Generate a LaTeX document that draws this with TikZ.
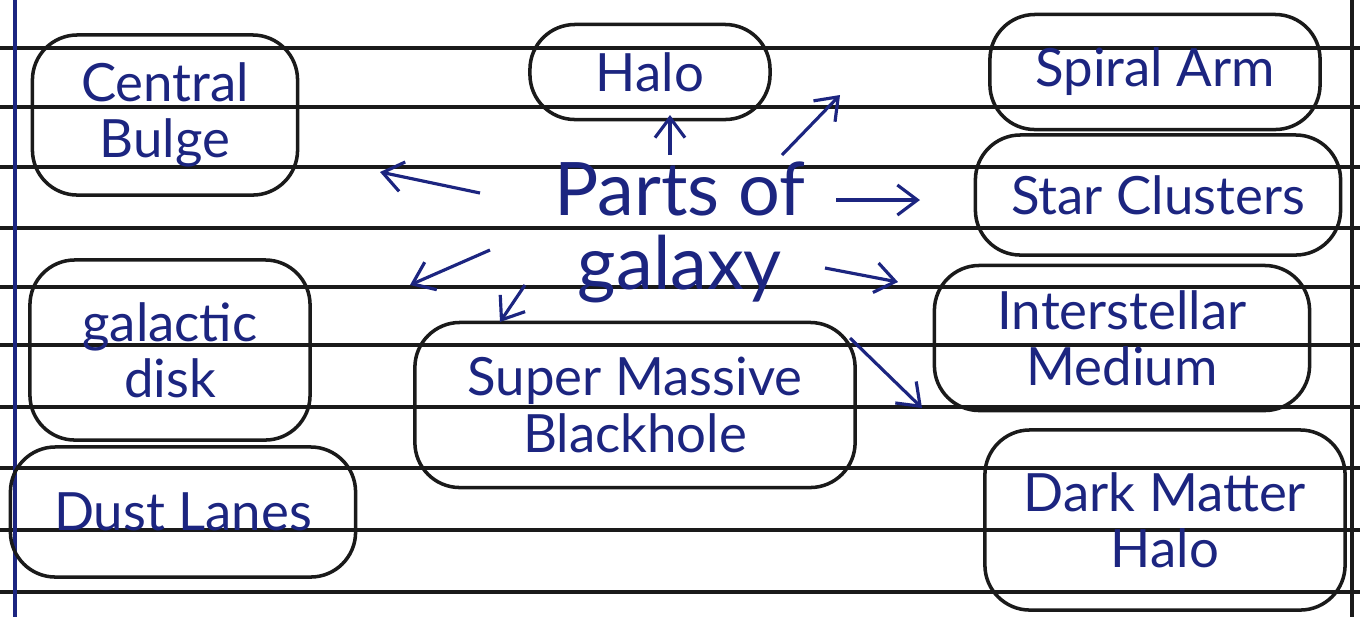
\documentclass[tikz,border=0pt]{standalone}
\usepackage{fontspec}
\setmainfont{Lato}
\usetikzlibrary{arrows.meta}

\definecolor{ink}{HTML}{1C2580}
\definecolor{pen}{HTML}{1A1A1A}

\begin{document}
\begin{tikzpicture}[
    x=0.01cm, y=-0.01cm,
    blob/.style={draw=pen, line width=1pt, rounded corners=0.45cm, align=center, text=ink, font=\fontsize{15}{16}\selectfont},
    rule/.style={draw=pen, line width=0.9pt},
    arr/.style={draw=ink, line width=0.9pt, -{Straight Barb[length=2mm,width=3mm]}}
]
\useasboundingbox (0,0) rectangle (1360,617);
% ruled paper
\foreach \y in {48,107,167,228,287,345,407,468,530,592}
  \draw[rule] (0,\y) -- (1360,\y);
\draw[ink, line width=1pt] (15,0) -- (15,617);
\draw[rule] (1352,0) -- (1352,617);

% centre
\node[text=ink, align=center, font=\fontsize{21}{21}\selectfont] (parts) at (680,232) {Parts of\\galaxy};

% parts
\node[blob, minimum width=2.65cm, minimum height=1.6cm] (bulge) at (165,115) {Central\\Bulge};
\node[blob, minimum width=2.4cm, minimum height=0.95cm] (halo) at (650,72) {Halo};
\node[blob, minimum width=3.3cm, minimum height=1.15cm] (spiral) at (1155,72) {Spiral Arm};
\node[blob, minimum width=3.65cm, minimum height=1.2cm] (clusters) at (1158,195) {Star Clusters};
\node[blob, minimum width=2.8cm, minimum height=1.8cm] (disk) at (170,350) {galactic\\disk};
\node[blob, minimum width=4.4cm, minimum height=1.65cm] (smbh) at (635,405) {Super Massive\\Blackhole};
\node[blob, minimum width=3.75cm, minimum height=1.45cm] (ism) at (1122,338) {Interstellar\\Medium};
\node[blob, minimum width=3.45cm, minimum height=1.3cm] (dust) at (183,512) {Dust Lanes};
\node[blob, minimum width=3.6cm, minimum height=1.8cm] (dmh) at (1165,520) {Dark Matter\\Halo};

% arrow ends
\coordinate (haloTail) at (670,155);      \coordinate (haloTip) at (670,115);
\coordinate (spiralTail) at (782,155);    \coordinate (spiralTip) at (840,95);
\coordinate (clustersTail) at (836,200);  \coordinate (clustersTip) at (920,200);
\coordinate (ismTail) at (825,268);       \coordinate (ismTip) at (898,282);
\coordinate (dmhTail) at (850,338);       \coordinate (dmhTip) at (922,408);
\coordinate (smbhTail) at (525,285);      \coordinate (smbhTip) at (500,322);
\coordinate (diskTail) at (490,250);      \coordinate (diskTip) at (410,285);
\coordinate (bulgeTail) at (480,193);     \coordinate (bulgeTip) at (380,172);

\draw[arr] (haloTail) -- (haloTip);
\draw[arr] (spiralTail) -- (spiralTip);
\draw[arr] (clustersTail) -- (clustersTip);
\draw[arr] (ismTail) -- (ismTip);
\draw[arr] (dmhTail) -- (dmhTip);
\draw[arr] (smbhTail) -- (smbhTip);
\draw[arr] (diskTail) -- (diskTip);
\draw[arr] (bulgeTail) -- (bulgeTip);
\end{tikzpicture}
\end{document}
